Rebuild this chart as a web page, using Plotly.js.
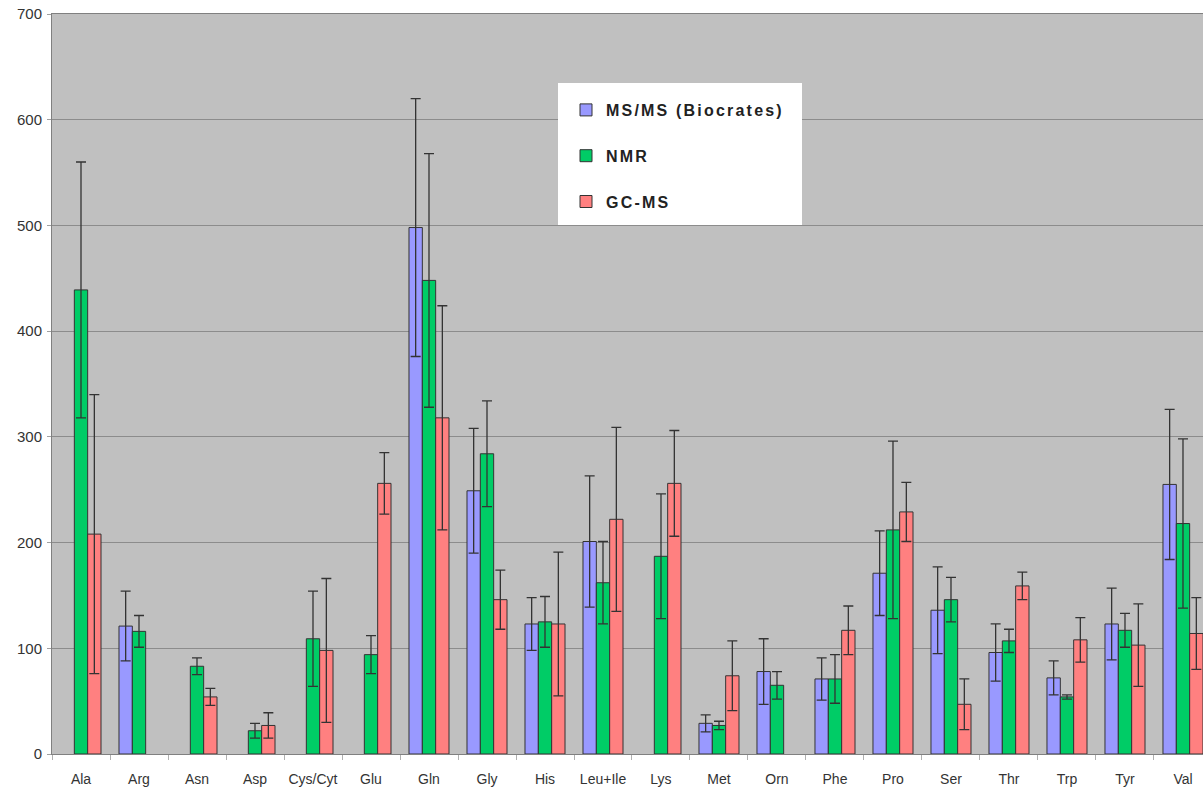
<!DOCTYPE html>
<html>
<head>
<meta charset="utf-8">
<script src="https://cdn.plot.ly/plotly-3.0.1.min.js"></script>
<style>
html,body{margin:0;padding:0;background:#fff;}
#chart{width:1203px;height:793px;}
.legendtext{letter-spacing:2.2px;}
</style>
</head>
<body>
<div id="chart"></div>
<script>
const categories = ['Ala','Arg','Asn','Asp','Cys/Cyt','Glu','Gln','Gly','His','Leu+Ile','Lys','Met','Orn','Phe','Pro','Ser','Thr','Trp','Tyr','Val'];
const msmsValues = [null,121,null,null,null,null,498,249,123,201,null,29,78,71,171,136,96,72,123,255];
const msmsErrors = [0,33,0,0,0,0,122,59,25,62,0,8,31,20,40,41,27,16,34,71];
const nmrValues = [439,116,83,22,109,94,448,284,125,162,187,27,65,71,212,146,107,54,117,218];
const nmrErrors = [121,15,8,7,45,18,120,50,24,39,59,4,13,23,84,21,11,2,16,80];
const gcmsValues = [208,null,54,27,98,256,318,146,123,222,256,74,null,117,229,47,159,108,103,114];
const gcmsErrors = [132,0,8,12,68,29,106,28,68,87,50,33,0,23,28,24,13,21,39,34];
const seriesNames = ['MS/MS (Biocrates)','NMR','GC-MS'];
const yTicks = [0,100,200,300,400,500,600,700];

const colors = ['#9999FF','#00CC66','#FF8080'];
const vals = [msmsValues, nmrValues, gcmsValues];
const errs = [msmsErrors, nmrErrors, gcmsErrors];

const traces = seriesNames.map((n,i)=>({
  type:'bar',
  name:n,
  x:categories,
  y:vals[i],
  legendgroup:'g'+i,
  marker:{color:colors[i], line:{color:'#333333', width:1}},
  error_y:{type:'data', array:errs[i], visible:true, color:'#333333', thickness:1.3, width:5}
}));

const layout = {
  width:1203, height:793,
  margin:{l:52, r:0, t:14, b:39, pad:0},
  paper_bgcolor:'#ffffff',
  plot_bgcolor:'#C0C0C0',
  barmode:'group',
  bargap:0.31,
  bargroupgap:0,
  font:{family:'Liberation Sans, Arial, sans-serif', color:'#333333', size:14},
  xaxis:{
    type:'category',
    range:[-0.5, 19.345],
    showline:true, linecolor:'#808080', linewidth:1, mirror:true,
    ticks:'outside', tickson:'boundaries', ticklen:5, tickcolor:'#b0b0b0',
    tickangle:0,
    ticklabelstandoff:12,
    showgrid:false,
    tickfont:{size:14, color:'#333333'},
    fixedrange:true
  },
  yaxis:{
    range:[0,700],
    tickvals:yTicks,
    showgrid:true, gridcolor:'#8c8c8c', gridwidth:1,
    showline:true, linecolor:'#808080', linewidth:1,
    ticks:'outside', ticklen:4, tickcolor:'#a0a0a0',
    ticklabelstandoff:2,
    tickfont:{size:15, color:'#333333'},
    zeroline:false,
    fixedrange:true
  },
  shapes:[{
    type:'rect', xref:'paper', yref:'paper', layer:'above',
    x0:(558-52)/1151, x1:(802-52)/1151, y0:(754-225)/740, y1:(754-83)/740,
    fillcolor:'#ffffff', line:{width:0}
  }],
  legend:{
    x:(566-52)/1151, y:(754-93)/740, xanchor:'left', yanchor:'top',
    bgcolor:'rgba(0,0,0,0)', borderwidth:0,
    font:{size:16, color:'#222222', weight:'bold'},
    tracegroupgap:22,
    itemwidth:30
  },
  showlegend:true
};

Plotly.newPlot('chart', traces, layout, {displayModeBar:false, staticPlot:true});
</script>
</body>
</html>
